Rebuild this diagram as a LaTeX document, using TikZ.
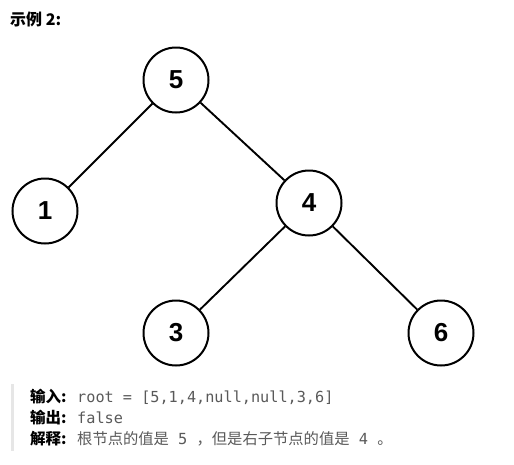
\documentclass[tikz,border=0pt]{standalone}
\usepackage{fontspec}
\setmainfont{Liberation Sans}
\setmonofont{DejaVu Sans Mono}
\newfontfamily\cjk{Noto Sans CJK SC}
\definecolor{txtgray}{HTML}{595959}
\definecolor{bargray}{HTML}{E6E6E6}
\begin{document}
\begin{tikzpicture}[x=1pt,y=-1pt,
  tnode/.style={circle,draw=black,line width=2pt,minimum size=65pt,inner sep=0pt,font=\fontsize{26}{26}\selectfont\bfseries},
  tedge/.style={line width=1.9pt,black},
  lbl/.style={anchor=base west,inner sep=0pt,font=\cjk\bfseries\fontsize{15.5}{17}\selectfont},
  val/.style={anchor=base west,inner sep=0pt,text=txtgray}]
\useasboundingbox (0,0) rectangle (514,464);
\node[anchor=base west,inner sep=0pt,font=\cjk\bfseries\fontsize{16}{17}\selectfont] (title) at (10,25) {示例 2:};
\node[tnode] (n5) at (176,80) {5};
\node[tnode] (n1) at (45,211) {1};
\node[tnode] (n4) at (309,203) {4};
\node[tnode] (n3) at (176,333) {3};
\node[tnode] (n6) at (441,333) {6};
\draw[tedge] (n5) -- (n1);
\draw[tedge] (n5) -- (n4);
\draw[tedge] (n4) -- (n3);
\draw[tedge] (n4) -- (n6);
\fill[bargray] (11,384) rectangle (14,451);
\node[lbl] (l1) at (30,402) {输入:};
\node[val,font=\ttfamily\fontsize{15.2}{17}\selectfont] (v1) at (77,402) {root = [5,1,4,null,null,3,6]};
\node[lbl] (l2) at (30,423) {输出:};
\node[val,font=\ttfamily\fontsize{15.2}{17}\selectfont] (v2) at (77,423) {false};
\node[lbl] (l3) at (30,444) {解释:};
\node[val,font=\cjk\fontsize{15.3}{17}\selectfont] (v3) at (77,444) {根节点的值是\texttt{\ 5\ }，但是右子节点的值是\texttt{\ 4\ }。};
\end{tikzpicture}
\end{document}
